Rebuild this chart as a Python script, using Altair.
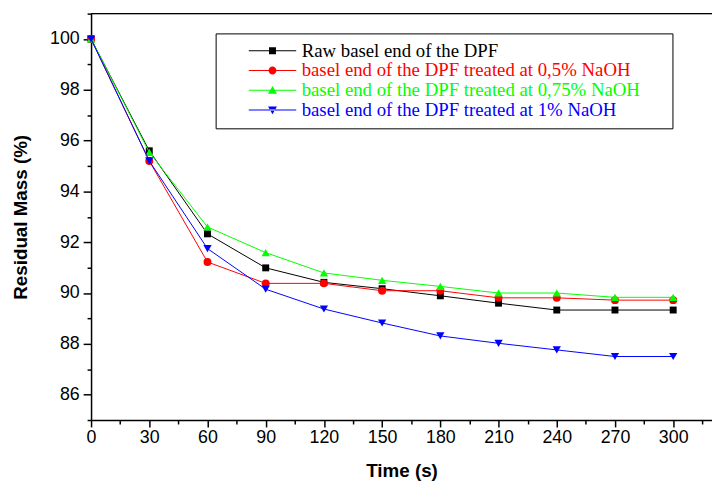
import altair as alt
import pandas as pd

# ---- data ----
time_s = [0, 30, 60, 90, 120, 150, 180, 210, 240, 270, 300]
series_names = [
    "Raw basel end of the DPF",
    "basel end of the DPF treated at 0,5% NaOH",
    "basel end of the DPF treated at 0,75% NaOH",
    "basel end of the DPF treated at 1% NaOH",
]
raw = [100, 95.60, 92.33, 90.99, 90.42, 90.17, 89.89, 89.60, 89.33, 89.33, 89.33]
naoh_05 = [100, 95.20, 91.22, 90.38, 90.38, 90.09, 90.09, 89.81, 89.81, 89.72, 89.72]
naoh_075 = [100, 95.54, 92.60, 91.59, 90.79, 90.50, 90.26, 90.00, 90.00, 89.83, 89.83]
naoh_1 = [100, 95.20, 91.75, 90.15, 89.37, 88.82, 88.31, 88.02, 87.76, 87.50, 87.50]
x_ticks = list(range(0, 316, 15))
y_ticks = list(range(85, 102))

# ---- styles ----
colors = ["#000000", "#ff0000", "#00ff00", "#0000ff"]
marker_shapes = ["square", "circle", "triangle-up", "triangle-down"]
marker_sizes = [49, 64, 70, 70]
# legend symbol paths (1 unit = 9 px with symbolSize 324)
BAR = "M-2.667,-0.056H2.667V0.056H-2.667Z"
legend_paths = [
    BAR + "M-0.389,-0.389H0.389V0.389H-0.389Z",
    BAR + "M0.444,0A0.444,0.444 0 1,1 -0.444,0A0.444,0.444 0 1,1 0.444,0Z",
    BAR + "M0,-0.48L0.5,0.4H-0.5Z",
    BAR + "M0,0.48L0.5,-0.4H-0.5Z",
]

values = [raw, naoh_05, naoh_075, naoh_1]
rows = []
for name, vals in zip(series_names, values):
    for t, v in zip(time_s, vals):
        rows.append({"time": t, "mass": v, "series": name})
df = pd.DataFrame(rows)

W, H = 628, 411
FONT = "Liberation Sans"

x_axis = alt.Axis(
    values=x_ticks,
    labelExpr="datum.value % 30 == 0 ? datum.label : ''",
    tickSize={"expr": "datum.value % 30 == 0 ? 7 : 4"},
    grid=False, domainColor="black", domainWidth=1.5, tickColor="black", tickWidth=1.5,
    labelFont=FONT, labelFontSize=18, labelColor="black", labelPadding=2, labelFlush=False,
    title="Time (s)", titleFont=FONT, titleFontSize=19, titleFontWeight="bold",
    titleColor="black", titlePadding=15,
)
y_axis = alt.Axis(
    values=y_ticks,
    labelExpr="datum.value % 2 == 0 ? datum.label : ''",
    tickSize={"expr": "datum.value % 2 == 0 ? 8 : 4"},
    grid=False, domainColor="black", domainWidth=1.5, tickColor="black", tickWidth=1.5,
    labelFont=FONT, labelFontSize=18, labelColor="black", labelPadding=4, labelFlush=False,
    title="Residual Mass (%)", titleFont=FONT, titleFontSize=19, titleFontWeight="bold",
    titleColor="black", titlePadding=19,
)
X = alt.X("time:Q", scale=alt.Scale(domain=[0, 320], nice=False, zero=False), axis=x_axis)
Y = alt.Y("mass:Q", scale=alt.Scale(domain=[85, 101], nice=False, zero=False), axis=y_axis)

base = alt.Chart(df)
layers = []
for i, name in enumerate(series_names):
    sub = base.transform_filter(alt.datum.series == name)
    layers.append(sub.mark_line(color=colors[i], strokeWidth=1).encode(x=X, y=Y))
    layers.append(
        sub.mark_point(shape=marker_shapes[i], filled=True, color=colors[i],
                       size=marker_sizes[i], opacity=1, strokeWidth=0).encode(x=X, y=Y)
    )

label_color_expr = " : ".join(
    f"datum.value == '{n}' ? '{c}'" for n, c in zip(series_names[:-1], colors[:-1])
) + f" : '{colors[-1]}'"

leg = alt.Legend(
    title=None,
    orient="none", legendX=126, legendY=20,
    fillColor="white", strokeColor="black", padding=8,
    symbolSize=324, symbolStrokeWidth=0, symbolOffset=40, labelOffset=20, rowPadding=0,
    labelFont="Liberation Serif", labelFontSize=19, labelLimit=0,
    labelColor={"expr": label_color_expr},
    labelExpr="datum.label + '\u00a0\u00a0\u00a0\u00a0\u00a0\u200b'",
)
legend_layer = base.transform_filter("false").mark_point(filled=True, opacity=1).encode(
    color=alt.Color("series:N", scale=alt.Scale(domain=series_names, range=colors), legend=leg),
    shape=alt.Shape("series:N", scale=alt.Scale(domain=series_names, range=legend_paths), legend=leg),
)

top_border = alt.Chart(alt.Data(values=[{}])).mark_rule(color="black", strokeWidth=1.5).encode(
    x=alt.value(0), x2=alt.value(W), y=alt.value(0)
)

chart = alt.layer(top_border, *layers, legend_layer).properties(
    width=W, height=H,
    autosize=alt.AutoSizeParams(type="none"),
    padding={"left": 84, "top": 3, "right": 0, "bottom": 60},
).configure_view(stroke=None).configure(background="white")

chart.save("out.html", embed_options={"renderer": "svg", "actions": False})
